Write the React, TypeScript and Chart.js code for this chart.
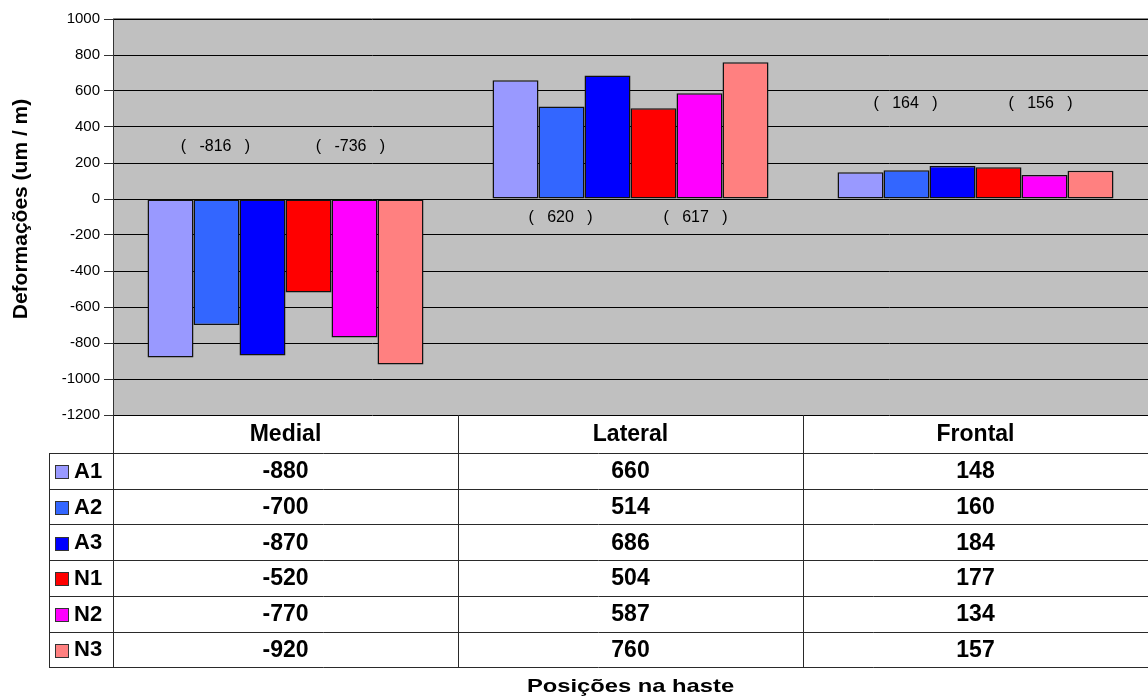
import React, { useEffect, useRef } from "react";
import { Chart, registerables } from "chart.js";

Chart.register(...registerables);

const categories = ["Medial", "Lateral", "Frontal"];
const seriesNames = ["A1", "A2", "A3", "N1", "N2", "N3"];
const seriesColors = ["#9999FF", "#3366FF", "#0000FF", "#FF0000", "#FF00FF", "#FF8080"];
const A1 = [-880, 660, 148];
const A2 = [-700, 514, 160];
const A3 = [-870, 686, 184];
const N1 = [-520, 504, 177];
const N2 = [-770, 587, 134];
const N3 = [-920, 760, 157];
const seriesValues = [A1, A2, A3, N1, N2, N3];

const yMin = -1200;
const yMax = 1000;
const yStep = 200;

// averages shown above/below each category group: [A group, N group]
const groupAverageLabels = [
  ["(   -816   )", "(   -736   )"],
  ["(   620   )", "(   617   )"],
  ["(   164   )", "(   156   )"],
];
const groupAverageLevels = [290, -105, 530];

const yTitle = "Deformações (um / m)";
const xTitle = "Posições na haste";

const FONT = "'Liberation Sans', Arial, sans-serif";

function drawText(
  ctx: CanvasRenderingContext2D,
  str: string,
  x: number,
  y: number,
  font: string,
  align: CanvasTextAlign = "center",
  sx = 1
) {
  ctx.save();
  ctx.translate(x, y);
  ctx.scale(sx, 1);
  ctx.font = font;
  ctx.fillStyle = "#000";
  ctx.textAlign = align;
  ctx.textBaseline = "middle";
  ctx.fillText(str, 0, 0);
  ctx.restore();
}

const backgroundPlugin = {
  id: "plotBg",
  beforeDraw(chart: any) {
    const { ctx, chartArea } = chart;
    ctx.save();
    ctx.fillStyle = "#C0C0C0";
    ctx.fillRect(chartArea.left, chartArea.top, chartArea.right - chartArea.left, chartArea.bottom - chartArea.top);
    ctx.strokeStyle = "#8a8a8a";
    ctx.lineWidth = 1;
    ctx.beginPath();
    ctx.moveTo(chartArea.left, chartArea.top - 0.5);
    ctx.lineTo(chartArea.right, chartArea.top - 0.5);
    ctx.stroke();
    ctx.restore();
  },
};

const tablePlugin = {
  id: "dataTable",
  afterDraw(chart: any) {
    const { ctx, chartArea, scales } = chart;
    const xs = scales.x;
    const ys = scales.y;

    // group average annotations
    categories.forEach((_, ci) => {
      const aMeta = chart.getDatasetMeta(1).data[ci];
      const nMeta = chart.getDatasetMeta(4).data[ci];
      const yy = ys.getPixelForValue(groupAverageLevels[ci]);
      drawText(ctx, groupAverageLabels[ci][0], aMeta.x - 1, yy, `16px ${FONT}`);
      drawText(ctx, groupAverageLabels[ci][1], nMeta.x - 4, yy, `16px ${FONT}`);
    });

    const top = chartArea.bottom;
    const headerH = 38;
    const rowH = 35.7;
    const tableBottom = top + headerH + rowH * seriesNames.length;
    const legendLeft = 49;
    const left = chartArea.left;
    const right = chartArea.right;

    ctx.save();
    ctx.strokeStyle = "#2a2a2a";
    ctx.lineWidth = 1;
    ctx.beginPath();
    const colEdges: number[] = [left];
    for (let i = 0; i < categories.length; i++) {
      const c = xs.getPixelForValue(i);
      const half = (right - left) / categories.length / 2;
      colEdges.push(Math.round(c + half));
    }
    colEdges.forEach((x) => {
      const xx = Math.round(x) + 0.5;
      ctx.moveTo(xx, top);
      ctx.lineTo(xx, tableBottom);
    });
    ctx.moveTo(legendLeft + 0.5, top + headerH);
    ctx.lineTo(legendLeft + 0.5, tableBottom);
    for (let r = 0; r <= seriesNames.length; r++) {
      const yy = Math.round(top + headerH + r * rowH) + 0.5;
      ctx.moveTo(legendLeft, yy);
      ctx.lineTo(right, yy);
    }
    ctx.stroke();
    ctx.restore();

    categories.forEach((cat, ci) => {
      drawText(ctx, cat, xs.getPixelForValue(ci), top + headerH / 2 + 1, `bold 23px ${FONT}`);
    });
    seriesNames.forEach((name, si) => {
      const cy = top + headerH + rowH * si + rowH / 2 + 1;
      ctx.save();
      ctx.fillStyle = seriesColors[si];
      ctx.fillRect(55, Math.round(cy - 6.5), 13, 13);
      ctx.strokeStyle = "#333";
      ctx.lineWidth = 1;
      ctx.strokeRect(55.5, Math.round(cy - 6.5) + 0.5, 13, 13);
      ctx.restore();
      drawText(ctx, name, 74, cy, `bold 22px ${FONT}`, "left");
      seriesValues[si].forEach((v, ci) => {
        drawText(ctx, String(v), xs.getPixelForValue(ci), cy, `bold 23px ${FONT}`);
      });
    });

    drawText(ctx, xTitle, (left + right) / 2, 687, `bold 19px ${FONT}`, "center", 1.25);
    ctx.save();
    ctx.translate(21, (chartArea.top + chartArea.bottom) / 2 - 8);
    ctx.rotate(-Math.PI / 2);
    drawText(ctx, yTitle, 0, 0, `bold 21px ${FONT}`);
    ctx.restore();
  },
};

export default function App() {
  const canvasRef = useRef<HTMLCanvasElement | null>(null);

  useEffect(() => {
    if (!canvasRef.current) return;
    const chart = new Chart(canvasRef.current, {
      type: "bar",
      data: {
        labels: categories,
        datasets: seriesNames.map((name, i) => ({
          label: name,
          data: seriesValues[i],
          backgroundColor: seriesColors[i],
          borderColor: "#111",
          borderWidth: 1.5,
          borderSkipped: false,
          categoryPercentage: 0.8,
          barPercentage: 1.0,
        })),
      },
      options: {
        animation: false,
        responsive: true,
        maintainAspectRatio: false,
        layout: { padding: { top: 19, right: 0, bottom: 282, left: 0 } },
        plugins: {
          legend: { display: false },
          tooltip: { enabled: false },
          title: { display: false },
        },
        scales: {
          x: {
            type: "category",
            display: false,
            grid: { display: false },
          },
          y: {
            min: yMin,
            max: yMax,
            afterFit(scale: any) {
              scale.width = 113;
            },
            ticks: {
              stepSize: yStep,
              color: "#000",
              font: { family: FONT, size: 15 },
              padding: 4,
              callback: (v: any) => String(v),
            },
            grid: {
              color: "#000",
              lineWidth: 1,
              tickLength: 9,
              tickColor: "#333",
            },
            border: { display: true, color: "#333", width: 1 },
          },
        },
      },
      plugins: [backgroundPlugin, tablePlugin],
    });
    return () => chart.destroy();
  }, []);

  return (
    <div style={{ position: "fixed", left: 0, top: 0, width: 1148, height: 697, background: "#fff" }}>
      <canvas ref={canvasRef} />
    </div>
  );
}
